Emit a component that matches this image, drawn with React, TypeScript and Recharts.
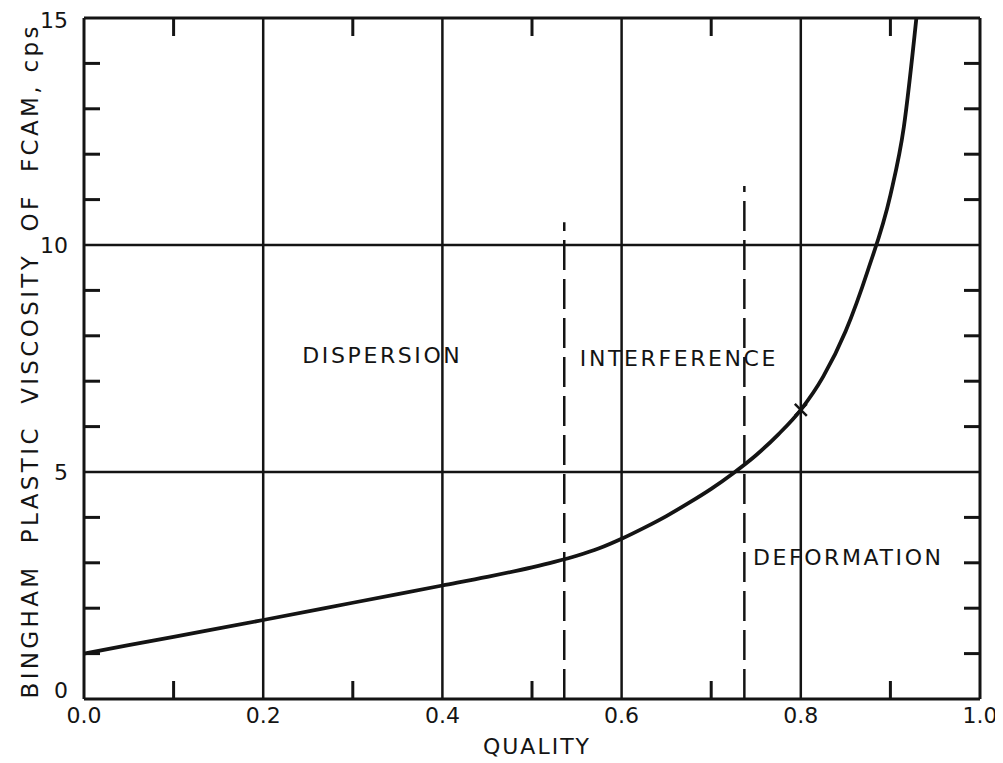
import React from "react";
import {
    ComposedChart,
    Line,
    Scatter,
    XAxis,
    YAxis,
    ReferenceLine,
    ReferenceDot
} from "recharts";

// quality vs. Bingham plastic viscosity (cps)
const curve = [
    { x: 0.0, y: 1.0 },
    { x: 0.1, y: 1.37 },
    { x: 0.2, y: 1.74 },
    { x: 0.3, y: 2.12 },
    { x: 0.4, y: 2.5 },
    { x: 0.45, y: 2.69 },
    { x: 0.5, y: 2.9 },
    { x: 0.525, y: 3.02 },
    { x: 0.55, y: 3.155 },
    { x: 0.575, y: 3.32 },
    { x: 0.6, y: 3.53 },
    { x: 0.625, y: 3.77 },
    { x: 0.65, y: 4.03 },
    { x: 0.675, y: 4.32 },
    { x: 0.7, y: 4.63 },
    { x: 0.725, y: 4.98 },
    { x: 0.75, y: 5.37 },
    { x: 0.775, y: 5.83 },
    { x: 0.8, y: 6.37 },
    { x: 0.825, y: 7.1 },
    { x: 0.85, y: 8.1 },
    { x: 0.875, y: 9.45 },
    { x: 0.9, y: 11.1 },
    { x: 0.915, y: 12.6 },
    { x: 0.929, y: 15 }
];
const marked = [{ x: 0.8, y: 6.37 }];

// regime boundaries: quality and how high the dashed line runs
const boundaries = [
    { x: 0.536, top: 10.5 },
    { x: 0.737, top: 11.3 }
];
const regions = [
    { name: "DISPERSION", x: 0.333, y: 7.58 },
    { name: "INTERFERENCE", x: 0.664, y: 7.5 },
    { name: "DEFORMATION", x: 0.853, y: 3.13 }
];

const xTicks = [0, 0.1, 0.2, 0.3, 0.4, 0.5, 0.6, 0.7, 0.8, 0.9, 1.0];
const xMajor = [0, 0.2, 0.4, 0.6, 0.8, 1.0];
const xMinor = [0.1, 0.3, 0.5, 0.7, 0.9];
const xGrid = [0.2, 0.4, 0.6, 0.8];
const yTicks = [0, 1, 2, 3, 4, 5, 6, 7, 8, 9, 10, 11, 12, 13, 14, 15];
const yMajor = [0, 5, 10, 15];
const yGrid = [5, 10];
const Y_MAX = 15;

// anchor points for the minor ticks along the top edge
const topTicks = xMinor.map(v => ({ x: v, y: Y_MAX }));

const INK = "#141414";
const FONT = "'DejaVu Sans', sans-serif";

const isMajor = (list: number[], v: number) => list.some(m => Math.abs(m - v) < 1e-6);

// tick renderers: minor ticks are short inward strokes, major ones carry a label
const BottomTick = (props: any) => {
    const { x, y, payload } = props;
    const v = payload.value;
    if (isMajor(xMajor, v)) {
        return (
            <text x={x} y={y + 24} textAnchor="middle" fill={INK} fontFamily={FONT} fontSize={22}>
                {v.toFixed(1)}
            </text>
        );
    }
    return <line x1={x} x2={x} y1={y} y2={y - 18} stroke={INK} strokeWidth={3} />;
};

const LeftTick = (props: any) => {
    const { x, y, payload } = props;
    const v = payload.value;
    if (isMajor(yMajor, v)) {
        return (
            <text
                x={x - 16}
                y={y + 8 - (v === 0 ? 9 : 0) + (v === 15 ? 2 : 0)}
                textAnchor="end"
                fill={INK}
                fontFamily={FONT}
                fontSize={22}
            >
                {v}
            </text>
        );
    }
    return <line x1={x} x2={x + 16} y1={y} y2={y} stroke={INK} strokeWidth={3} />;
};

const RightTick = (props: any) => {
    const { x, y } = props;
    return <line x1={x} x2={x - 16} y1={y} y2={y} stroke={INK} strokeWidth={3} />;
};

const TopTickMark = (props: any) => {
    const { cx, cy } = props;
    return <line x1={cx} x2={cx} y1={cy} y2={cy + 18} stroke={INK} strokeWidth={3} />;
};

const CrossMark = (props: any) => {
    const { cx, cy } = props;
    const s = 6;
    return (
        <g stroke={INK} strokeWidth={2.5}>
            <line x1={cx - s} y1={cy - s} x2={cx + s} y2={cy + s} />
            <line x1={cx - s} y1={cy + s} x2={cx + s} y2={cy - s} />
        </g>
    );
};

const YTitle = (props: any) => {
    const { viewBox } = props;
    const cx = viewBox.x + 22;
    const cy = viewBox.y + viewBox.height / 2 + 4;
    return (
        <text
            x={cx}
            y={cy}
            transform={`rotate(-90, ${cx}, ${cy})`}
            textAnchor="middle"
            dominantBaseline="central"
            fill={INK}
            fontFamily={FONT}
            fontSize={23}
            textLength={672}
            lengthAdjust="spacing"
            style={{ whiteSpace: "pre" }}
        >
            {"BINGHAM  PLASTIC  VISCOSITY  OF  FCAM, cps"}
        </text>
    );
};

const XTitle = (props: any) => {
    const { viewBox } = props;
    return (
        <text
            x={viewBox.x + viewBox.width / 2 + 5}
            y={viewBox.y + 55}
            textAnchor="middle"
            fill={INK}
            fontFamily={FONT}
            fontSize={22}
            letterSpacing={2}
        >
            QUALITY
        </text>
    );
};

const frame = { stroke: INK, strokeWidth: 3 };

export default function App() {
    return (
        <ComposedChart
            width={995}
            height={755}
            data={curve}
            margin={{ top: 9, right: 22, bottom: 0, left: 0 }}
            style={{ background: "#fff" }}
        >
            <XAxis
                dataKey="x"
                type="number"
                domain={[0, 1]}
                ticks={xTicks}
                interval={0}
                tickSize={0}
                tickMargin={0}
                tickLine={false}
                axisLine={frame}
                tick={<BottomTick />}
                height={64}
                label={<XTitle />}
            />
            <XAxis
                xAxisId="top"
                dataKey="x"
                orientation="top"
                type="number"
                domain={[0, 1]}
                tickLine={false}
                tick={false}
                axisLine={frame}
                height={1}
            />
            <YAxis
                type="number"
                domain={[0, Y_MAX]}
                ticks={yTicks}
                interval={0}
                tickSize={0}
                tickMargin={0}
                tickLine={false}
                axisLine={frame}
                tick={<LeftTick />}
                width={76}
                label={<YTitle />}
            />
            <YAxis
                yAxisId="right"
                orientation="right"
                type="number"
                domain={[0, Y_MAX]}
                ticks={yTicks.filter(v => !isMajor(yMajor, v))}
                interval={0}
                tickSize={0}
                tickMargin={0}
                tickLine={false}
                axisLine={frame}
                tick={<RightTick />}
                width={1}
            />

            {xGrid.map(v => (
                <ReferenceLine key={"gx" + v} x={v} stroke={INK} strokeWidth={2.5} />
            ))}
            {yGrid.map(v => (
                <ReferenceLine key={"gy" + v} y={v} stroke={INK} strokeWidth={2.5} />
            ))}
            {boundaries.map(b => (
                <ReferenceLine
                    key={"b" + b.x}
                    segment={[{ x: b.x, y: 0 }, { x: b.x, y: b.top }]}
                    stroke={INK}
                    strokeWidth={2.5}
                    strokeDasharray="30 9"
                />
            ))}
            {regions.map(r => (
                <ReferenceDot
                    key={r.name}
                    x={r.x}
                    y={r.y}
                    r={0}
                    fill="none"
                    stroke="none"
                    label={{
                        value: r.name,
                        position: "center",
                        fill: INK,
                        fontFamily: FONT,
                        fontSize: 22,
                        letterSpacing: 2.6
                    }}
                />
            ))}

            {/* same curve on the top/right axes, unstroked, so the frame's other two sides get drawn */}
            <Line
                xAxisId="top"
                yAxisId="right"
                dataKey="y"
                stroke="none"
                dot={false}
                activeDot={false}
                legendType="none"
                isAnimationActive={false}
            />
            <Line
                type="monotone"
                dataKey="y"
                stroke={INK}
                strokeWidth={3.8}
                dot={false}
                activeDot={false}
                isAnimationActive={false}
            />
            <Scatter data={topTicks} dataKey="y" shape={<TopTickMark />} isAnimationActive={false} />
            <Scatter data={marked} dataKey="y" shape={<CrossMark />} isAnimationActive={false} />
        </ComposedChart>
    );
}
